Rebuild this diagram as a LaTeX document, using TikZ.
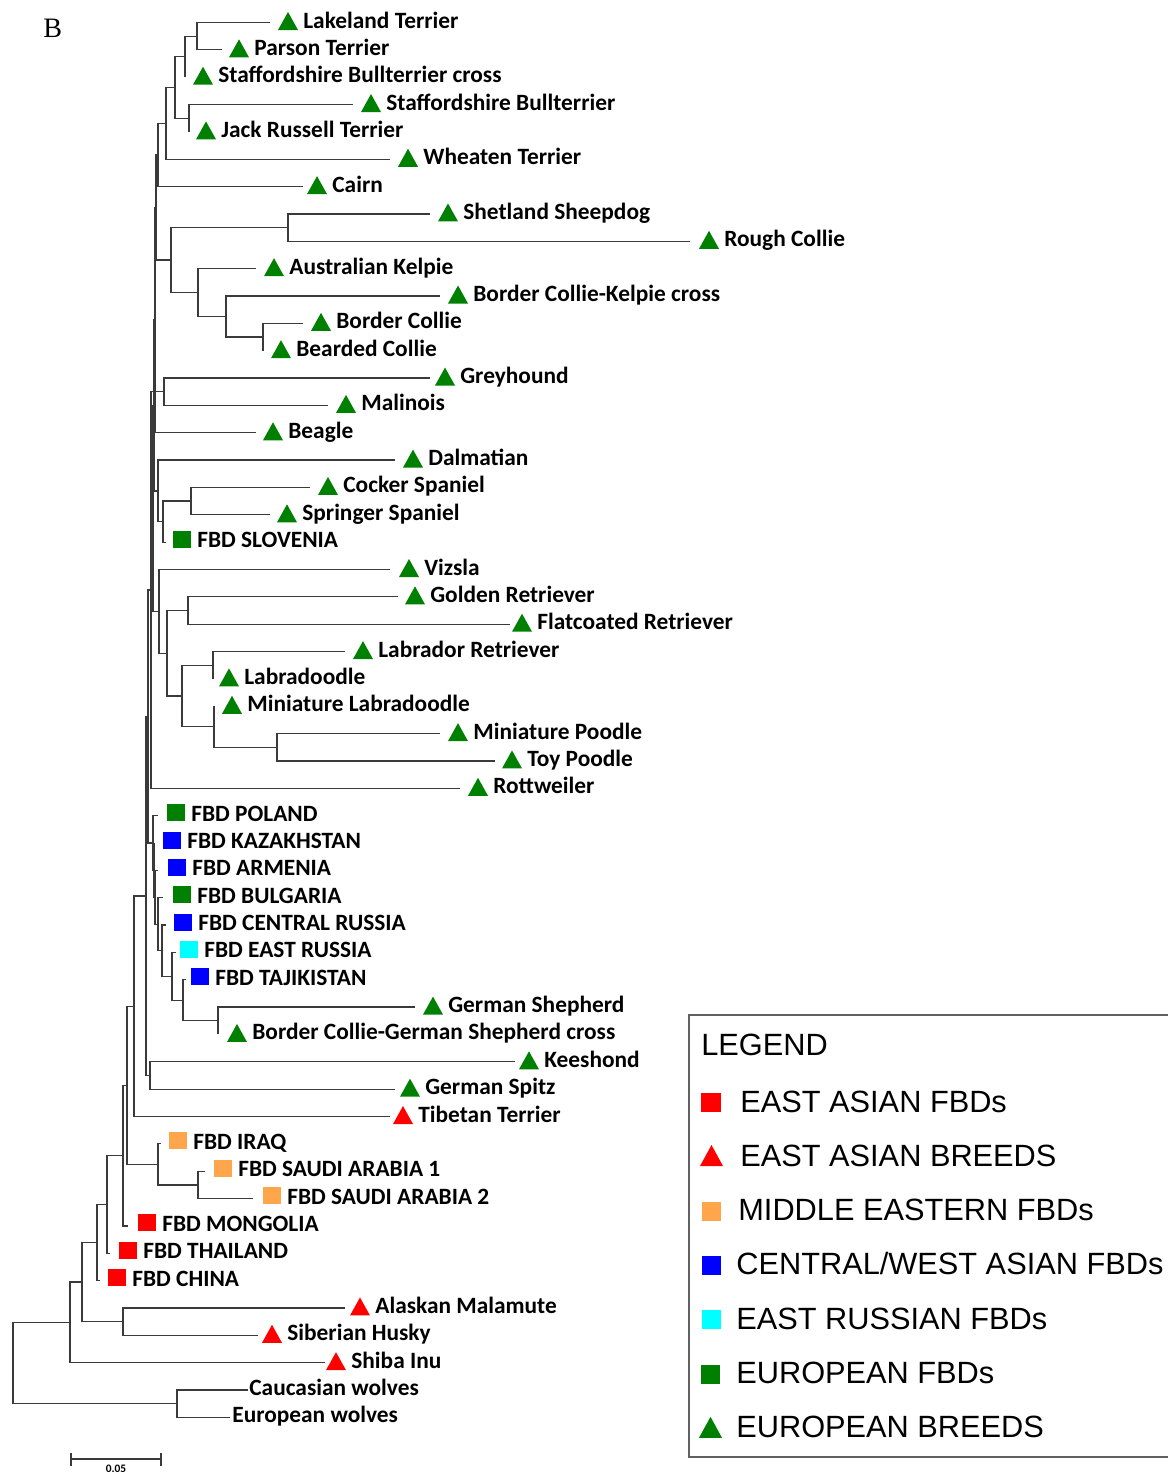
\documentclass[tikz,border=0pt]{standalone}
\usepackage{fontspec}
\setmainfont{Liberation Serif}
\newfontfamily\carl{Carlito}
\newfontfamily\arialf{Liberation Sans}
\definecolor{eugreen}{HTML}{008000}
\definecolor{eared}{HTML}{FF0000}
\definecolor{meorange}{HTML}{FFA64D}
\definecolor{cwblue}{HTML}{0000FF}
\definecolor{ercyan}{HTML}{00FFFF}
\definecolor{branch}{HTML}{3A3A3A}
\tikzset{
  lbl/.style={anchor=base west, inner sep=0pt, font=\carl\bfseries\fontsize{13.3}{15}\selectfont},
  leg/.style={anchor=base west, inner sep=0pt, font=\arialf\fontsize{17.5}{20}\selectfont},
  br/.style={draw=branch, line width=0.7pt},
}
% triangle leaf: name, colour, text x, row index, text
\newcommand\lt[5]{%
  \fill[#2] ({#3-25},{28+27.35*(#4-1)+2}) -- ({#3-5},{28+27.35*(#4-1)+2}) -- ({#3-15},{28+27.35*(#4-1)-16}) -- cycle;
  \node[lbl] (#1) at (#3,{28+27.35*(#4-1)}) {#5};}
% square leaf
\newcommand\ls[5]{%
  \fill[#2] ({#3-24},{28+27.35*(#4-1)}) rectangle ({#3-6},{28+27.35*(#4-1)-17});
  \node[lbl] (#1) at (#3,{28+27.35*(#4-1)}) {#5};}
\begin{document}
\begin{tikzpicture}[x=0.02cm,y=-0.02cm]
\useasboundingbox (0,0) rectangle (1168,1474);
\fill[white] (0,0) rectangle (1168,1474);
\node[anchor=base west, inner sep=0pt, font=\fontsize{16}{18}\selectfont] (panel) at (43,37) {B};

% ---------------- branches ----------------
\begin{scope}[br]
% terriers
\draw (270,22.5) -| (197,49.85) -- (222,49.85);
\draw (197,36.2) -| (185,77.2);
\draw (353,104.55) -| (189,131.9);
\draw (185,56.7) -| (175,118.2) -- (189,118.2);
\draw (175,87.5) -| (166,159.25) -- (390,159.25);
\draw (166,123.4) -| (158,186.6) -- (303,186.6);
% herding
\draw (430,213.95) -| (288,241.3) -- (690,241.3);
\draw (303,323.35) -| (263,350.7);
\draw (440,296) -| (226,337) -- (263,337);
\draw (256,268.65) -| (198,316.5) -- (226,316.5);
\draw (288,227.6) -| (171,292.6) -- (198,292.6);
\draw (158,155) -| (156,260.1) -- (171,260.1);
% greyhound / malinois
\draw (430,378.05) -| (164,405.4) -- (328,405.4);
% beagle
\draw (156,207.5) -| (155,432.75) -- (256,432.75);
% spaniels, dalmatian
\draw (310,487.45) -| (191,514.8) -- (270,514.8);
\draw (191,501.1) -| (163,542.15) -- (166,542.15);
\draw (395,460.1) -| (158,521.6) -- (163,521.6);
\draw (155,320.1) -| (154,490.9) -- (158,490.9);
% retrievers, poodles
\draw (398,596.85) -| (188,624.2) -- (510,624.2);
\draw (345,651.55) -| (213,678.9);
\draw (440,733.6) -| (277,760.95) -- (495,760.95);
\draw (214,706.25) |- (277,747.3);
\draw (213,665.2) -| (182,726.8) -- (214,726.8);
\draw (188,610.5) -| (167,696) -- (182,696);
\draw (390,569.5) -| (159,653.3) -- (167,653.3);
\draw (154,405.5) -| (153,611.4) -- (159,611.4);
\draw (164,391.7) -| (151,788.3) -- (460,788.3);
\draw (151,508.5) -- (153,508.5);
% FBD group
\draw (415,1007.1) -| (218,1034.45);
\draw (186,979.75) -| (183,1020.8) -- (218,1020.8);
\draw (176,952.4) -| (172,1000.3) -- (183,1000.3);
\draw (166,925.05) -| (162,976.35) -- (172,976.35);
\draw (163,897.7) -| (158,950.7) -- (162,950.7);
\draw (158,870.35) -| (155,924.2) -- (158,924.2);
\draw (154,843) |- (155,897.3);
\draw (158,815.65) -| (153,870.15) -- (154,870.15);
\draw (151,590) -| (148,842.9) -- (153,842.9);
% keeshond / spitz
\draw (515,1061.8) -| (150,1089.15) -- (395,1089.15);
\draw (148,716.45) -| (146,1075.5) -- (150,1075.5);
\draw (146,896) -| (134,1116.5) -- (390,1116.5);
% middle east
\draw (205,1171.2) -| (198,1198.55) -- (253,1198.55);
\draw (161,1143.85) -| (158,1184.9) -- (198,1184.9);
\draw (134,1006.25) -| (127,1164.4) -- (158,1164.4);
\draw (127,1085.3) -| (123,1225.9) -- (128,1225.9);
\draw (123,1155.6) -| (107,1253.25) -- (110,1253.25);
\draw (107,1204.4) -| (97,1280.6) -- (100,1280.6);
% spitz-type east asian breeds
\draw (345,1307.95) -| (123,1335.3) -- (258,1335.3);
\draw (97,1242.5) -| (82,1321.6) -- (123,1321.6);
\draw (82,1282) -| (70,1362.65) -- (325,1362.65);
% wolves
\draw (248,1390) -| (177,1417.35) -- (230,1417.35);
\draw (70,1322.3) -| (13,1403.7) -- (177,1403.7);
% scale bar
\draw (71,1459) -- (161,1459);
\draw (71,1453) -- (71,1466);
\draw (161,1453) -- (161,1466);
\end{scope}
\node[anchor=north, inner sep=0pt, font=\carl\bfseries\fontsize{6.5}{7}\selectfont] (scale) at (116,1465) {0.05};

% ---------------- leaves ----------------
\lt{l1}{eugreen}{303}{1}{Lakeland Terrier}
\lt{l2}{eugreen}{254}{2}{Parson Terrier}
\lt{l3}{eugreen}{218}{3}{Staffordshire Bullterrier cross}
\lt{l4}{eugreen}{386}{4}{Staffordshire Bullterrier}
\lt{l5}{eugreen}{221}{5}{Jack Russell Terrier}
\lt{l6}{eugreen}{423}{6}{Wheaten Terrier}
\lt{l7}{eugreen}{332}{7}{Cairn}
\lt{l8}{eugreen}{463}{8}{Shetland Sheepdog}
\lt{l9}{eugreen}{724}{9}{Rough Collie}
\lt{l10}{eugreen}{289}{10}{Australian Kelpie}
\lt{l11}{eugreen}{473}{11}{Border Collie-Kelpie cross}
\lt{l12}{eugreen}{336}{12}{Border Collie}
\lt{l13}{eugreen}{296}{13}{Bearded Collie}
\lt{l14}{eugreen}{460}{14}{Greyhound}
\lt{l15}{eugreen}{361}{15}{Malinois}
\lt{l16}{eugreen}{288}{16}{Beagle}
\lt{l17}{eugreen}{428}{17}{Dalmatian}
\lt{l18}{eugreen}{343}{18}{Cocker Spaniel}
\lt{l19}{eugreen}{302}{19}{Springer Spaniel}
\ls{l20}{eugreen}{197}{20}{FBD SLOVENIA}
\lt{l21}{eugreen}{424}{21}{Vizsla}
\lt{l22}{eugreen}{430}{22}{Golden Retriever}
\lt{l23}{eugreen}{537}{23}{Flatcoated Retriever}
\lt{l24}{eugreen}{378}{24}{Labrador Retriever}
\lt{l25}{eugreen}{244}{25}{Labradoodle}
\lt{l26}{eugreen}{247}{26}{Miniature Labradoodle}
\lt{l27}{eugreen}{473}{27}{Miniature Poodle}
\lt{l28}{eugreen}{527}{28}{Toy Poodle}
\lt{l29}{eugreen}{493}{29}{Rottweiler}
\ls{l30}{eugreen}{191}{30}{FBD POLAND}
\ls{l31}{cwblue}{187}{31}{FBD KAZAKHSTAN}
\ls{l32}{cwblue}{192}{32}{FBD ARMENIA}
\ls{l33}{eugreen}{197}{33}{FBD BULGARIA}
\ls{l34}{cwblue}{198}{34}{FBD CENTRAL RUSSIA}
\ls{l35}{ercyan}{204}{35}{FBD EAST RUSSIA}
\ls{l36}{cwblue}{215}{36}{FBD TAJIKISTAN}
\lt{l37}{eugreen}{448}{37}{German Shepherd}
\lt{l38}{eugreen}{252}{38}{Border Collie-German Shepherd cross}
\lt{l39}{eugreen}{544}{39}{Keeshond}
\lt{l40}{eugreen}{425}{40}{German Spitz}
\lt{l41}{eared}{418}{41}{Tibetan Terrier}
\ls{l42}{meorange}{193}{42}{FBD IRAQ}
\ls{l43}{meorange}{238}{43}{FBD SAUDI ARABIA 1}
\ls{l44}{meorange}{287}{44}{FBD SAUDI ARABIA 2}
\ls{l45}{eared}{162}{45}{FBD MONGOLIA}
\ls{l46}{eared}{143}{46}{FBD THAILAND}
\ls{l47}{eared}{132}{47}{FBD CHINA}
\lt{l48}{eared}{375}{48}{Alaskan Malamute}
\lt{l49}{eared}{287}{49}{Siberian Husky}
\lt{l50}{eared}{351}{50}{Shiba Inu}
\node[lbl] (l51) at (249,{28+27.35*50}) {Caucasian wolves};
\node[lbl] (l52) at (232,{28+27.35*51}) {European wolves};

% ---------------- legend ----------------
\draw[draw=black!62, line width=0.9pt] (1172,1015) -- (689,1015) -- (689,1457) -- (1172,1457);
\node[leg] (legtitle) at (701,1055) {LEGEND};
\fill[eared] (701,1112) rectangle (721,1093);
\node[leg] (lg1) at (740,1112) {EAST ASIAN FBDs};
\fill[eared] (700,1166) -- (723,1166) -- (711.5,1145) -- cycle;
\node[leg] (lg2) at (740,1166.3) {EAST ASIAN BREEDS};
\fill[meorange] (702,1220.6) rectangle (721,1201.6);
\node[leg] (lg3) at (738,1220.6) {MIDDLE EASTERN FBDs};
\fill[cwblue] (702,1274.9) rectangle (721,1255.9);
\node[leg] (lg4) at (736,1274.9) {CENTRAL/WEST ASIAN FBDs};
\fill[ercyan] (702,1329.2) rectangle (721,1310.2);
\node[leg] (lg5) at (736,1329.2) {EAST RUSSIAN FBDs};
\fill[eugreen] (701,1383.5) rectangle (720,1364.5);
\node[leg] (lg6) at (736,1383.5) {EUROPEAN FBDs};
\fill[eugreen] (699,1437.8) -- (722,1437.8) -- (710.5,1416.8) -- cycle;
\node[leg] (lg7) at (736,1437.8) {EUROPEAN BREEDS};
\end{tikzpicture}
\end{document}
